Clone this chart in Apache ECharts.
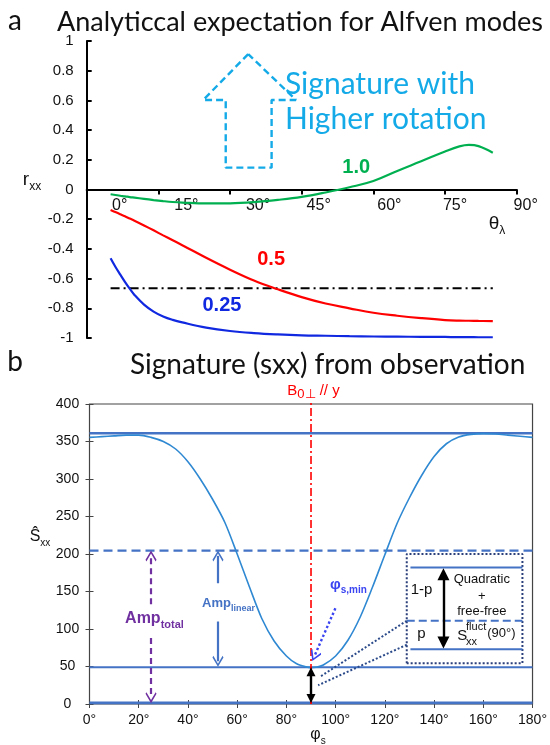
<!DOCTYPE html>
<html>
<head>
<meta charset="utf-8">
<script src="https://cdn.jsdelivr.net/npm/echarts@6/dist/echarts.min.js"></script>
<style>
  html, body { margin: 0; padding: 0; background: #fff; }
  #chart { width: 550px; height: 745px; }
</style>
</head>
<body>
<div id="chart"></div>
<script>
// ---- panel a: analytic expectation r_xx(theta_lambda) ----
const thetaTicks = [0, 15, 30, 45, 60, 75, 90];
const rxxTicks = [-1, -0.8, -0.6, -0.4, -0.2, 0, 0.2, 0.4, 0.6, 0.8, 1];
const theta = [5, 6, 7, 8, 9, 10, 12, 14, 16, 18, 20, 25, 30, 35, 40, 45, 50, 55, 60, 65, 70, 75, 78, 80, 82, 85];
const rxx10 = [-0.032, -0.037, -0.042, -0.046, -0.051, -0.055, -0.063, -0.071, -0.078, -0.084, -0.088, -0.094, -0.093, -0.085, -0.07, -0.05, -0.02, 0.015, 0.057, 0.125, 0.19, 0.256, 0.29, 0.30, 0.292, 0.248];
const rxx05 = [-0.138, -0.152, -0.166, -0.18, -0.195, -0.21, -0.242, -0.275, -0.309, -0.342, -0.375, -0.46, -0.54, -0.613, -0.672, -0.725, -0.768, -0.8, -0.83, -0.85, -0.866, -0.879, -0.883, -0.884, -0.885, -0.886];
const rxx025 = [-0.463, -0.52, -0.572, -0.622, -0.668, -0.71, -0.775, -0.822, -0.855, -0.878, -0.895, -0.93, -0.953, -0.967, -0.976, -0.982, -0.985, -0.988, -0.99, -0.991, -0.992, -0.993, -0.994, -0.994, -0.995, -0.995];
const rxxThreshold = -0.665;
const thresholdSpan = [5, 85];
// dashed "higher rotation" arrow outline, in (theta, r_xx)
const upArrowX = [33.8, 24.4, 29.1, 29.1, 38.7, 38.7, 43.8, 33.8];
const upArrowY = [0.912, 0.603, 0.603, 0.147, 0.147, 0.603, 0.603, 0.912];

// ---- panel b: observed S_xx(phi_s) ----
const phiTicks = [0, 20, 40, 60, 80, 100, 120, 140, 160, 180];
const sxxTicks = [0, 50, 100, 150, 200, 250, 300, 350, 400];
const phi = [0, 5, 10, 15, 20, 25, 30, 35, 40, 45, 50, 55, 60, 65, 70, 75, 80, 84, 88, 90, 92, 95, 100, 105, 110, 115, 120, 125, 130, 135, 140, 145, 150, 155, 160, 165, 170, 175, 180];
const sxx = [355.5, 356.5, 357.5, 358.5, 358.5, 355.5, 350, 340, 323, 300, 273, 242, 200, 156, 114, 84, 64, 54, 49.5, 48.5, 49, 52, 64, 85, 116, 156, 199, 241, 275, 305, 330, 347, 356, 359.5, 360.5, 360, 358.5, 357, 355.5];
const sxxTop = 361;
const sxxFit = 204.5;
const sxxMin = 49;
const sxxZero = 1.5;
const b0Phi = 90;
const ampTotalPhi = 25;
const ampLinearPhi = 52.2;
const insetPhi = [128.9, 175.9];
const insetSxx = [54.3, 200];
const insetLevels = [182, 111, 73];
const insetArrowPhi = 143.8;

const pairs = (xs, ys) => xs.map((x, i) => [x, ys[i]]);

const SANS = '"Liberation Sans", Arial, sans-serif';
const CAL = 'Lato, "Open Sans", sans-serif';
const BLUE = '#4472C4';
const chevron = 'path://M0,0 L10,9 L8.4,10.6 L0,3 L-8.4,10.6 L-10,9 Z';

const chart = echarts.init(document.getElementById('chart'));

const thetaShift = [33, 28, 28, 17, 16, 10, 9];
const thetaRich = {};
thetaTicks.forEach((t, i) => {
  thetaRich['t' + i] = {padding: [0, 0, 0, 2 * thetaShift[i]], fontSize: 16, fontFamily: SANS, color: '#111'};
});

const lineSeries = (name, grid, data, style, extra) => Object.assign({
  name, type: 'line', xAxisIndex: grid, yAxisIndex: grid, data,
  showSymbol: false, symbol: 'none', silent: true, lineStyle: style
}, extra || {});

const arrowSeries = (name, color, type, width, lines) => ({
  name, type: 'line', xAxisIndex: 1, yAxisIndex: 1, data: [], silent: true,
  markLine: {
    silent: true, animation: false, label: {show: false},
    lineStyle: {color, type, width},
    emphasis: {disabled: true},
    data: lines
  }
});

const option = {
  animation: false,
  backgroundColor: '#fff',
  grid: [
    {left: 86.7, top: 41, width: 430, height: 297},
    {left: 89.5, top: 404, width: 450, height: 300, show: true, borderColor: '#444', borderWidth: 1.2}
  ],
  xAxis: [
    {
      // drawn through r_xx = 0 (middle of the grid)
      gridIndex: 0, type: 'value', min: 0, max: 90, interval: 15, offset: -148.5,
      axisLine: {onZero: false, lineStyle: {color: '#000', width: 2}},
      axisTick: {length: 5, lineStyle: {color: '#000', width: 2}},
      axisLabel: {
        margin: 8, showMinLabel: true, showMaxLabel: true,
        formatter: v => '{t' + thetaTicks.indexOf(v) + '|' + v + '°}',
        rich: thetaRich
      },
      splitLine: {show: false}
    },
    {
      gridIndex: 1, type: 'value', min: 0, max: 180, interval: 20,
      axisLine: {show: false},
      axisTick: {inside: true, length: 4, lineStyle: {color: '#444'}},
      axisLabel: {margin: 9, fontSize: 14, fontFamily: SANS, color: '#111', formatter: v => v + '°'},
      splitLine: {show: false}
    },
    {
      gridIndex: 1, type: 'value', min: 0, max: 180, interval: 20, position: 'top',
      axisLine: {show: false},
      axisTick: {inside: true, length: 4, lineStyle: {color: '#444'}},
      axisLabel: {show: false}, splitLine: {show: false}
    }
  ],
  yAxis: [
    {
      gridIndex: 0, type: 'value', min: -1, max: 1, interval: 0.2,
      axisLine: {onZero: false, lineStyle: {color: '#000', width: 2}},
      axisTick: {inside: true, length: 5, lineStyle: {color: '#000', width: 2}},
      axisLabel: {margin: 13, fontSize: 15, fontFamily: SANS, color: '#111', showMinLabel: true, showMaxLabel: true},
      splitLine: {show: false}
    },
    {
      gridIndex: 1, type: 'value', min: 0, max: 400, interval: 50,
      axisLine: {show: false},
      axisTick: {inside: true, length: 4, lineStyle: {color: '#444'}},
      axisLabel: {margin: 22, align: 'center', fontSize: 14, fontFamily: SANS, color: '#111'},
      splitLine: {show: false}
    },
    {
      gridIndex: 1, type: 'value', min: 0, max: 400, interval: 50, position: 'right',
      axisLine: {show: false},
      axisTick: {inside: true, length: 4, lineStyle: {color: '#444'}},
      axisLabel: {show: false}, splitLine: {show: false}
    }
  ],
  series: [
    // panel a
    lineSeries('threshold', 0, thresholdSpan.map(t => [t, rxxThreshold]), {color: '#000', width: 2, type: [9, 4, 2, 4]}),
    lineSeries('r 1.0', 0, pairs(theta, rxx10), {color: '#00B050', width: 2.2}, {smooth: 0.4}),
    lineSeries('r 0.5', 0, pairs(theta, rxx05), {color: '#FF0000', width: 2.2}, {smooth: 0.4}),
    lineSeries('r 0.25', 0, pairs(theta, rxx025), {color: '#1028E0', width: 2.2}, {smooth: 0.4}),
    lineSeries('up arrow', 0, pairs(upArrowX, upArrowY), {color: '#14AAE8', width: 2.4, type: [7, 4]}),
    // panel b
    lineSeries('zero', 1, [[0, sxxZero], [180, sxxZero]], {color: BLUE, width: 2.6}),
    lineSeries('top', 1, [[0, sxxTop], [180, sxxTop]], {color: BLUE, width: 2.4}),
    lineSeries('fit', 1, [[0, sxxFit], [180, sxxFit]], {color: BLUE, width: 2.2, type: [9, 5]}),
    lineSeries('min', 1, [[0, sxxMin], [180, sxxMin]], {color: BLUE, width: 2.2}),
    lineSeries('sxx', 1, pairs(phi, sxx), {color: '#2F88D2', width: 1.6}, {smooth: 0.3}),
    lineSeries('inset box', 1, [[insetPhi[0], insetSxx[0]], [insetPhi[0], insetSxx[1]], [insetPhi[1], insetSxx[1]], [insetPhi[1], insetSxx[0]], [insetPhi[0], insetSxx[0]]],
      {color: '#2B3F7A', width: 2, type: 'dotted'}),
    lineSeries('inset top', 1, [[130.4, insetLevels[0]], [175.9, insetLevels[0]]], {color: BLUE, width: 2.2}),
    lineSeries('inset mid', 1, [[insetPhi[0], insetLevels[1]], [insetPhi[1], insetLevels[1]]], {color: BLUE, width: 2.2, type: [8, 4]}),
    lineSeries('inset bottom', 1, [[130.4, insetLevels[2]], [175.9, insetLevels[2]]], {color: BLUE, width: 2.2}),
    lineSeries('link a', 1, [[insetPhi[0], insetLevels[1]], [93.5, 36]], {color: '#2B4A8A', width: 2, type: 'dotted'}),
    lineSeries('link b', 1, [[insetPhi[0], 79], [92.9, 25]], {color: '#2B4A8A', width: 2, type: 'dotted'}),
    arrowSeries('amp total', '#7030A0', [6, 4], 2.2, [
      [{coord: [ampTotalPhi, 133], symbol: 'none'}, {coord: [ampTotalPhi, sxxFit - 7], symbol: chevron, symbolSize: 11}],
      [{coord: [ampTotalPhi, 88], symbol: 'none'}, {coord: [ampTotalPhi, sxxZero + 7], symbol: chevron, symbolSize: 11}]
    ]),
    arrowSeries('amp linear', BLUE, 'solid', 2.2, [
      [{coord: [ampLinearPhi, 161], symbol: 'none'}, {coord: [ampLinearPhi, sxxFit - 7], symbol: chevron, symbolSize: 11}],
      [{coord: [ampLinearPhi, 110], symbol: 'none'}, {coord: [ampLinearPhi, sxxMin + 8], symbol: chevron, symbolSize: 11}]
    ]),
    arrowSeries('phi min', '#3A44F0', 'dotted', 2.4, [
      [{coord: [99.9, 127.6], symbol: 'none'}, {coord: [91.4, 64], symbol: chevron, symbolSize: 11}]
    ]),
    lineSeries('b0', 1, [[b0Phi, 0], [b0Phi, 405]], {color: '#FF0000', width: 1.6, type: [8, 3, 2, 3]}, {clip: false}),
    arrowSeries('black', '#000', 'solid', 2.4, [
      [{coord: [insetArrowPhi, insetLevels[2] + 9], symbol: 'triangle', symbolSize: 12}, {coord: [insetArrowPhi, insetLevels[0] - 9], symbol: 'triangle', symbolSize: 12}],
      [{coord: [b0Phi, sxxZero + 6], symbol: 'triangle', symbolSize: 9}, {coord: [b0Phi, sxxMin - 6], symbol: 'triangle', symbolSize: 9}]
    ]),
    lineSeries('b0 over', 1, [[b0Phi, 0], [b0Phi, sxxMin]], {color: '#FF0000', width: 1.4, type: [4, 3]})
  ]
};
chart.setOption(option);

// ---- text annotations ----
const tok = (size, fill, weight) => ({fontSize: size, fontFamily: SANS, fill, fontWeight: weight || 'normal'});
const sub = (size, fill, weight) => Object.assign(tok(size, fill, weight), {verticalAlign: 'bottom', padding: [0, 0, -3, 0]});

const notes = [
  // [grid, x, y, text, style, align]
  [0, 56.4, 0.148, '1.0', {fontSize: 20, fontWeight: 'bold', fill: '#00B050', fontFamily: SANS}],
  [0, 38.6, -0.468, '0.5', {fontSize: 20, fontWeight: 'bold', fill: '#FF0000', fontFamily: SANS}],
  [0, 28.3, -0.781, '0.25', {fontSize: 20, fontWeight: 'bold', fill: '#1028E0', fontFamily: SANS}],
  [0, 41.5, 0.709, 'Signature with', {fontSize: 30, fill: '#14AAE8', fontFamily: CAL}, 'left'],
  [0, 41.5, 0.473, 'Higher rotation', {fontSize: 30, fill: '#14AAE8', fontFamily: CAL}, 'left'],
  [1, 26.4, 113.3, '{m|Amp}{s|total}', {rich: {m: tok(16, '#7030A0', 'bold'), s: sub(11, '#7030A0', 'bold')}}],
  [1, 56.5, 134, '{m|Amp}{s|linear}', {rich: {m: tok(13, BLUE, 'bold'), s: sub(9, BLUE, 'bold')}}],
  [1, 105.2, 158.7, '{m|φ}{s|s,min}', {rich: {m: tok(15, '#3A44F0', 'bold'), s: sub(10, '#3A44F0', 'bold')}}],
  [1, 134.9, 152, '1-p', {fontSize: 15, fill: '#111', fontFamily: SANS}],
  [1, 134.9, 93.3, 'p', {fontSize: 15, fill: '#111', fontFamily: SANS}],
  [1, 159.4, 166.3, 'Quadratic', {fontSize: 13, fill: '#111', fontFamily: SANS}],
  [1, 159.4, 144, '+', {fontSize: 13, fill: '#111', fontFamily: SANS}],
  [1, 159.4, 124, 'free-free', {fontSize: 13, fill: '#111', fontFamily: SANS}],
  [1, 149.4, 90.7, 'S', {fontSize: 15, fill: '#111', fontFamily: SANS}, 'left'],
  [1, 153, 102.7, 'fluct', {fontSize: 11, fill: '#111', fontFamily: SANS}, 'left'],
  [1, 153, 82.7, 'xx', {fontSize: 11, fill: '#111', fontFamily: SANS}, 'left'],
  [1, 161.6, 94.7, '(90°)', {fontSize: 13, fill: '#111', fontFamily: SANS}, 'left'],
  [1, 91, 418, '{m|B}{s|0⊥}{m| // y}', {rich: {m: tok(15, '#FF0000'), s: sub(13, '#FF0000')}}]
];

const graphics = notes.map(([g, x, y, text, style, align]) => {
  const p = chart.convertToPixel({gridIndex: g}, [x, y]);
  return {
    type: 'text', x: p[0], y: p[1], silent: true, z: 100,
    style: Object.assign({text, align: align || 'center', verticalAlign: 'middle'}, style)
  };
});

const fixed = [
  [15, 21, 'a', {fontSize: 28, fill: '#111', fontFamily: CAL}],
  [57, 22, 'Analyticcal expectation for Alfven modes', {fontSize: 27, fill: '#111', fontFamily: CAL}, 'left'],
  [15, 362, 'b', {fontSize: 28, fill: '#111', fontFamily: CAL}],
  [130, 365, 'Signature (sxx) from observation', {fontSize: 28, fill: '#111', fontFamily: CAL}, 'left'],
  [32, 180, '{m|r}{s|xx}', {rich: {m: tok(19, '#111'), s: sub(12, '#111')}}],
  [497, 224, '{m|θ}{s|λ}', {rich: {m: tok(19, '#111'), s: sub(12, '#111')}}],
  [40, 537, '{m|Ŝ}{s|xx}', {rich: {m: tok(16, '#111'), s: sub(10, '#111')}}],
  [318, 735, '{m|φ}{s|s}', {rich: {m: tok(16, '#111'), s: sub(10, '#111')}}]
];
fixed.forEach(([x, y, text, style, align]) => {
  graphics.push({
    type: 'text', x, y, silent: true, z: 100,
    style: Object.assign({text, align: align || 'center', verticalAlign: 'middle'}, style)
  });
});

chart.setOption({graphic: graphics});
</script>
</body>
</html>
